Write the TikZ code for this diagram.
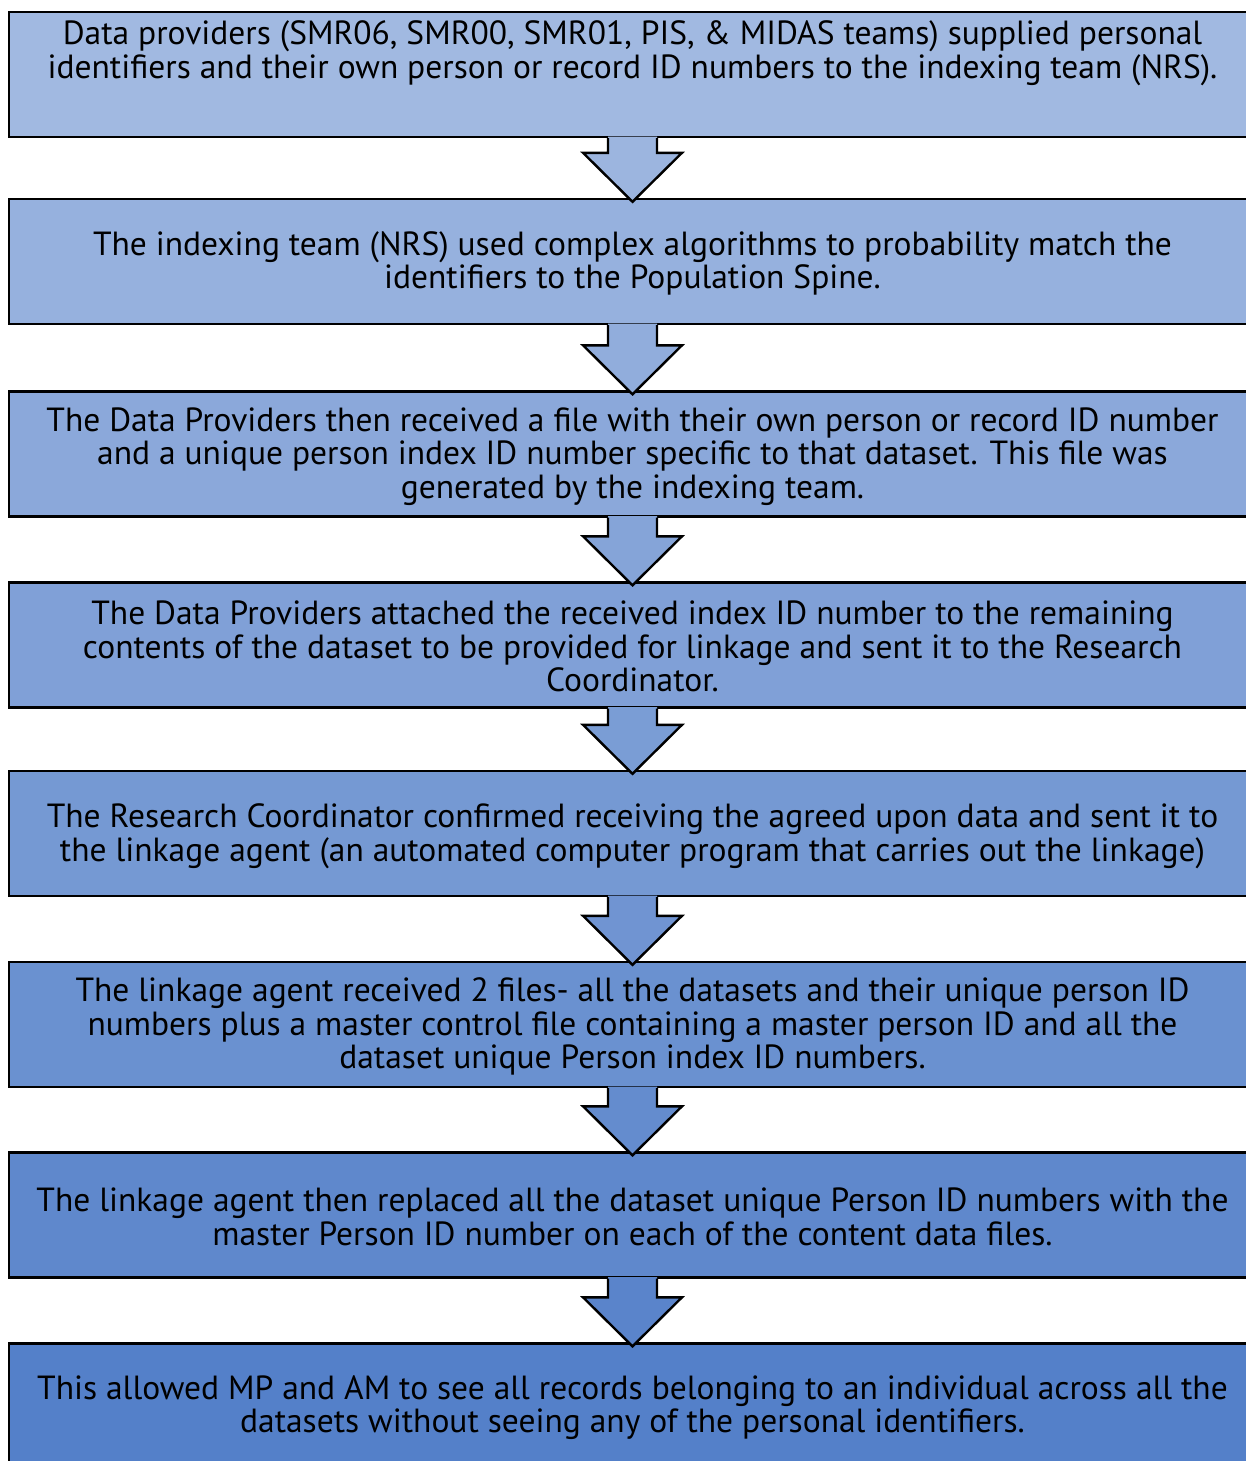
\documentclass[tikz,border=0pt]{standalone}
\usepackage{fontspec}
\setmainfont{PT Sans}
\usetikzlibrary{calc}
\definecolor{ctop}{RGB}{161,185,225}
\definecolor{cbot}{RGB}{84,128,201}
\tikzset{
  stepbox/.style={draw=black, line width=2.4pt, minimum width=1247pt, minimum height=125pt, inner sep=0pt},
  txt/.style={align=center, inner sep=0pt, yshift=-3pt, font=\fontsize{33.5}{33.6}\selectfont},
  arrowline/.style={draw=black, line width=2.4pt, line join=miter},
}
\newcommand\flowarrow[3]{%
  \fill[#3] let \p1=(#1.south), \p2=(#2.north) in
    (\x1-24.5pt,\y1+1.5pt) -- (\x1-24.5pt,\y2+45pt) -- (\x1-49.5pt,\y2+45pt) -- (\x1,\y2-4pt)
    -- (\x1+49.5pt,\y2+45pt) -- (\x1+24.5pt,\y2+45pt) -- (\x1+24.5pt,\y1+1.5pt) -- cycle;
  \draw[arrowline] let \p1=(#1.south), \p2=(#2.north) in
    (\x1-24.5pt,\y1) -- (\x1-24.5pt,\y2+45pt) -- (\x1-49.5pt,\y2+45pt) -- (\x1,\y2-4pt)
    -- (\x1+49.5pt,\y2+45pt) -- (\x1+24.5pt,\y2+45pt) -- (\x1+24.5pt,\y1);
}
\begin{document}
\begin{tikzpicture}[x=1pt,y=-1pt]
\useasboundingbox (0,0) rectangle (1246,1461);
\clip (0,0) rectangle (1246,1461);
\fill[white] (0,0) rectangle (1246,1461);

\node[stepbox, fill=cbot!0!ctop]   (b1) at (632.5,74.5)  {};
\node[stepbox, fill=cbot!14!ctop]  (b2) at (632.5,261.5) {};
\node[stepbox, fill=cbot!29!ctop]  (b3) at (632.5,454)   {};
\node[stepbox, fill=cbot!43!ctop]  (b4) at (632.5,645)   {};
\node[stepbox, fill=cbot!57!ctop]  (b5) at (632.5,833.5) {};
\node[stepbox, fill=cbot!71!ctop]  (b6) at (632.5,1024.5){};
\node[stepbox, fill=cbot!86!ctop]  (b7) at (632.5,1215)  {};
\node[stepbox, fill=cbot!100!ctop] (b8) at (632.5,1406)  {};

\flowarrow{b1}{b2}{cbot!7!ctop}
\flowarrow{b2}{b3}{cbot!21!ctop}
\flowarrow{b3}{b4}{cbot!36!ctop}
\flowarrow{b4}{b5}{cbot!50!ctop}
\flowarrow{b5}{b6}{cbot!64!ctop}
\flowarrow{b6}{b7}{cbot!79!ctop}
\flowarrow{b7}{b8}{cbot!93!ctop}

\node[txt] (t1) at (632.5,50.5) {Data providers (SMR06, SMR00, SMR01, PIS, \& MIDAS teams) supplied personal\\identifiers and their own person or record ID numbers to the indexing team (NRS).};
\node[txt] (t2) at (632.5,260.5) {The indexing team (NRS) used complex algorithms to probability match the\\identifiers to the Population Spine.};
\node[txt] (t3) at (632.5,453.5) {The Data Providers then received a file with their own person or record ID number\\and a unique person index ID number specific to that dataset. This file was\\generated by the indexing team.};
\node[txt] (t4) at (632.5,643.5) {The Data Providers attached the received index ID number to the remaining\\contents of the dataset to be provided for linkage and sent it to the Research\\Coordinator.};
\node[txt] (t5) at (632.5,833) {The Research Coordinator confirmed receiving the agreed upon data and sent it to\\the linkage agent (an automated computer program that carries out the linkage)};
\node[txt] (t6) at (632.5,1023.5) {The linkage agent received 2 files- all the datasets and their unique person ID\\numbers plus a master control file containing a master person ID and all the\\dataset unique Person index ID numbers.};
\node[txt] (t7) at (632.5,1214) {The linkage agent then replaced all the dataset unique Person ID numbers with the\\master Person ID number on each of the content data files.};
\node[txt] (t8) at (632.5,1404.5) {This allowed MP and AM to see all records belonging to an individual across all the\\datasets without seeing any of the personal identifiers.};
\end{tikzpicture}
\end{document}
